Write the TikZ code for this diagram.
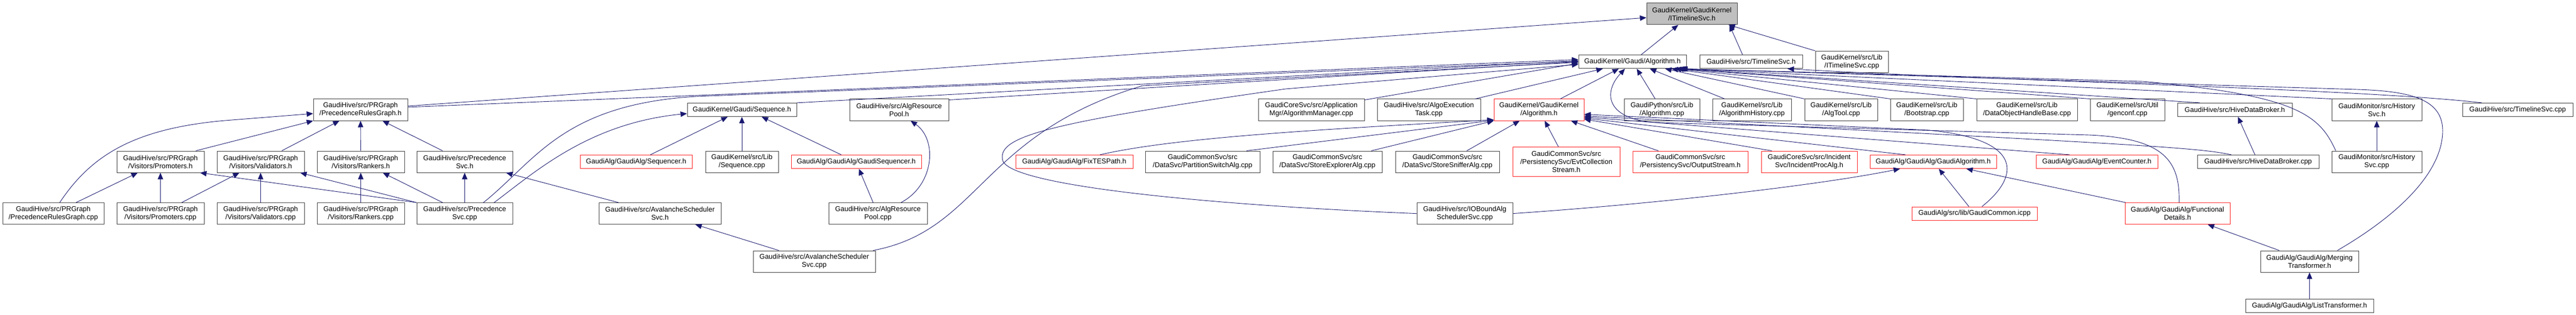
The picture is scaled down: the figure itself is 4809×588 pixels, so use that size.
\documentclass[tikz,border=0pt]{standalone}
\usepackage{fontspec}
\setmainfont{Liberation Sans}
\usetikzlibrary{arrows.meta}
\definecolor{edgeblue}{HTML}{191970}
\definecolor{rootgray}{HTML}{BFBFBF}
\definecolor{boxgray}{HTML}{404040}
\definecolor{boxred}{HTML}{FF2020}
\tikzset{
  box/.style={draw=boxgray, fill=white, line width=1pt, inner sep=0pt, align=center,
    font=\fontsize{13}{15}\selectfont, text=black},
  redbox/.style={box, draw=boxred},
  rootbox/.style={box, fill=rootgray},
  one/.style={minimum height=25.2pt},
  two/.style={minimum height=40pt},
  three/.style={minimum height=55pt},
  e/.style={draw=edgeblue, line width=0.9pt, -{Triangle[length=12pt,width=10pt]}},
}
\begin{document}
\begin{tikzpicture}[x=1pt,y=1pt]
\fill[white] (0,0) rectangle (4809,-588);
\useasboundingbox (0,0) rectangle (4809,-588);
% row 1
\node[rootbox,two,minimum width=169pt] (root) at (3158.5,-26) {GaudiKernel/GaudiKernel\\/ITimelineSvc.h};
% row 2
\node[box,one,minimum width=201pt] (A) at (3047.5,-115.2) {GaudiKernel/Gaudi/Algorithm.h};
\node[box,one,minimum width=192pt] (TSh) at (3269,-115.2) {GaudiHive/src/TimelineSvc.h};
\node[box,two,minimum width=136pt] (ITcpp) at (3457,-115.2) {GaudiKernel/src/Lib\\/ITimelineSvc.cpp};
% row 3
\node[box,two,minimum width=176pt] (PRGh) at (673,-205) {GaudiHive/src/PRGraph\\/PrecedenceRulesGraph.h};
\node[box,one,minimum width=204pt] (Seqh) at (1385,-205) {GaudiKernel/Gaudi/Sequence.h};
\node[box,two,minimum width=185pt] (ARPh) at (1678.5,-205) {GaudiHive/src/AlgResource\\Pool.h};
\node[box,two,minimum width=198pt] (AMcpp) at (2448,-205) {GaudiCoreSvc/src/Application\\Mgr/AlgorithmManager.cpp};
\node[box,two,minimum width=193pt] (AETcpp) at (2667.5,-205) {GaudiHive/src/AlgoExecution\\Task.cpp};
\node[redbox,two,minimum width=168pt] (GKAh) at (2873,-205) {GaudiKernel/GaudiKernel\\/Algorithm.h};
\node[box,two,minimum width=141pt] (GPAcpp) at (3102.5,-205) {GaudiPython/src/Lib\\/Algorithm.cpp};
\node[box,two,minimum width=147pt] (AHcpp) at (3270.5,-205) {GaudiKernel/src/Lib\\/AlgorithmHistory.cpp};
\node[box,two,minimum width=136pt] (ATcpp) at (3437,-205) {GaudiKernel/src/Lib\\/AlgTool.cpp};
\node[box,two,minimum width=136pt] (BScpp) at (3597,-205) {GaudiKernel/src/Lib\\/Bootstrap.cpp};
\node[box,two,minimum width=188pt] (DOHcpp) at (3784,-205) {GaudiKernel/src/Lib\\/DataObjectHandleBase.cpp};
\node[box,two,minimum width=139pt] (GCcpp) at (3971.5,-205) {GaudiKernel/src/Util\\/genconf.cpp};
\node[box,one,minimum width=214pt] (HDBh) at (4172,-205) {GaudiHive/src/HiveDataBroker.h};
\node[box,two,minimum width=168pt] (HSh) at (4437,-205) {GaudiMonitor/src/History\\Svc.h};
\node[box,one,minimum width=206pt] (TScpp) at (4700,-205) {GaudiHive/src/TimelineSvc.cpp};
% row 4
\node[box,two,minimum width=163pt] (Proh) at (299.5,-302) {GaudiHive/src/PRGraph\\/Visitors/Promoters.h};
\node[box,two,minimum width=163pt] (Valh) at (486.5,-302) {GaudiHive/src/PRGraph\\/Visitors/Validators.h};
\node[box,two,minimum width=163pt] (Rankh) at (673.5,-302) {GaudiHive/src/PRGraph\\/Visitors/Rankers.h};
\node[box,two,minimum width=179pt] (PSh) at (867.5,-302) {GaudiHive/src/Precedence\\Svc.h};
\node[redbox,one,minimum width=209pt] (Seqrh) at (1187.5,-302) {GaudiAlg/GaudiAlg/Sequencer.h};
\node[box,two,minimum width=136pt] (Seqcpp) at (1385,-302) {GaudiKernel/src/Lib\\/Sequence.cpp};
\node[redbox,one,minimum width=243pt] (GSeqh) at (1598.5,-302) {GaudiAlg/GaudiAlg/GaudiSequencer.h};
\node[redbox,one,minimum width=219pt] (FTPh) at (2005.5,-302) {GaudiAlg/GaudiAlg/FixTESPath.h};
\node[box,two,minimum width=214pt] (PSAcpp) at (2245,-302) {GaudiCommonSvc/src\\/DataSvc/PartitionSwitchAlg.cpp};
\node[box,two,minimum width=204pt] (SEAcpp) at (2478,-302) {GaudiCommonSvc/src\\/DataSvc/StoreExplorerAlg.cpp};
\node[box,two,minimum width=194pt] (SSAcpp) at (2702,-302) {GaudiCommonSvc/src\\/DataSvc/StoreSnifferAlg.cpp};
\node[redbox,three,minimum width=200pt] (ECSh) at (2924,-302) {GaudiCommonSvc/src\\/PersistencySvc/EvtCollection\\Stream.h};
\node[redbox,two,minimum width=215pt] (OSh) at (3155.5,-302) {GaudiCommonSvc/src\\/PersistencySvc/OutputStream.h};
\node[redbox,two,minimum width=179pt] (IPAh) at (3377.5,-302) {GaudiCoreSvc/src/Incident\\Svc/IncidentProcAlg.h};
\node[redbox,one,minimum width=236pt] (GAlgh) at (3609,-302) {GaudiAlg/GaudiAlg/GaudiAlgorithm.h};
\node[redbox,one,minimum width=227pt] (ECh) at (3914.5,-302) {GaudiAlg/GaudiAlg/EventCounter.h};
\node[box,one,minimum width=227pt] (HDBcpp) at (4215.5,-302) {GaudiHive/src/HiveDataBroker.cpp};
\node[box,two,minimum width=168pt] (HScpp) at (4437,-302) {GaudiMonitor/src/History\\Svc.cpp};
% row 5
\node[box,two,minimum width=189pt] (PRGcpp) at (99.5,-398.6) {GaudiHive/src/PRGraph\\/PrecedenceRulesGraph.cpp};
\node[box,two,minimum width=163pt] (Procpp) at (299.5,-398.6) {GaudiHive/src/PRGraph\\/Visitors/Promoters.cpp};
\node[box,two,minimum width=163pt] (Valcpp) at (486.5,-398.6) {GaudiHive/src/PRGraph\\/Visitors/Validators.cpp};
\node[box,two,minimum width=163pt] (Rankcpp) at (673.5,-398.6) {GaudiHive/src/PRGraph\\/Visitors/Rankers.cpp};
\node[box,two,minimum width=179pt] (PScpp) at (867.5,-398.6) {GaudiHive/src/Precedence\\Svc.cpp};
\node[box,two,minimum width=228pt] (ASh) at (1232,-398.6) {GaudiHive/src/AvalancheScheduler\\Svc.h};
\node[box,two,minimum width=184pt] (ARPcpp) at (1639,-398.6) {GaudiHive/src/AlgResource\\Pool.cpp};
\node[box,two,minimum width=179pt] (IOBcpp) at (2734.5,-398.6) {GaudiHive/src/IOBoundAlg\\SchedulerSvc.cpp};
\node[redbox,one,minimum width=234pt] (GCicpp) at (3686,-398.6) {GaudiAlg/src/lib/GaudiCommon.icpp};
\node[redbox,two,minimum width=196pt] (FDh) at (4065,-398.6) {GaudiAlg/GaudiAlg/Functional\\Details.h};
% row 6
\node[box,two,minimum width=228pt] (AScpp) at (1520,-488) {GaudiHive/src/AvalancheScheduler\\Svc.cpp};
\node[box,two,minimum width=183pt] (MTh) at (4311.5,-488) {GaudiAlg/GaudiAlg/Merging\\Transformer.h};
% row 7
\node[box,one,minimum width=239pt] (LTh) at (4311.5,-571) {GaudiAlg/GaudiAlg/ListTransformer.h};

% edges to root
\draw[e] (A) -- (root);
\draw[e] ([xshift=-16pt]TSh.north) -- ([xshift=70pt]root.south);
\draw[e] (ITcpp) -- (root);
\draw[e] ([yshift=7pt]PRGh.east) -- ([yshift=-7pt]root.west);
% edges to Gaudi/Algorithm.h
\draw[e] ([yshift=5pt]PRGh.east) -- ([yshift=4pt]A.west);
\draw[e] (Seqh.north east) -- ([yshift=2pt]A.west);
\draw[e] ([yshift=-2pt]ARPh.north east) -- (A.west);
\draw[e] ([yshift=-2pt]AMcpp.north east) -- ([yshift=-3pt]A.west);
\draw[e] (AETcpp) -- (A);
\draw[e] (GKAh) -- (A);
\draw[e] (GPAcpp) -- (A);
\draw[e] (AHcpp) -- (A);
\draw[e] (ATcpp.north west) -- ([xshift=-40pt]A.south east);
\draw[e] (BScpp.north west) -- ([xshift=-28pt]A.south east);
\draw[e] (DOHcpp.north west) -- ([xshift=-22pt]A.south east);
\draw[e] (GCcpp.north west) -- ([xshift=-18pt]A.south east);
\draw[e] ([xshift=42pt]HDBh.north west) -- ([xshift=-16pt]A.south east);
\draw[e] (HSh.north west) -- ([xshift=-14pt]A.south east);
\draw[e] ([xshift=8pt]HScpp.north west) .. controls (4330,-215) and (4290,-178) .. (4000,-152) -- ([xshift=-12pt]A.south east);
\draw[e] ([xshift=52pt]MTh.north) .. controls (4480,-400) and (4560,-320) .. (4560,-244) .. controls (4560,-185) and (4500,-170) .. (4400,-167) -- ([xshift=-10pt]A.south east);
\draw[e] ([xshift=3pt]FDh.north) .. controls (4070,-300) and (4040,-258) .. (3900,-252) -- (3100,-229) .. controls (3000,-226) and (2990,-175) .. ([xshift=-14pt]A.south);
\draw[e] ([xshift=35pt]PScpp.north) .. controls (1000,-300) and (1050,-195) .. (1300,-180) -- ([yshift=1pt]A.west);
\draw[e] ([xshift=110pt]AScpp.north) .. controls (1830,-430) and (1830,-250) .. (2133,-160) -- ([yshift=-1pt]A.west);
\draw[e] (IOBcpp.west) .. controls (2300,-385) and (1890,-350) .. (1872,-300) .. controls (1860,-255) and (1950,-230) .. (2400,-166) -- ([yshift=-5pt]A.west);
% TimelineSvc
\draw[e] ([xshift=-67pt]TScpp.north) .. controls (4400,-165) and (3700,-150) .. ([xshift=68pt]TSh.south);
% PRGraph cluster
\draw[e] ([xshift=66pt]Proh.north) -- (PRGh.south west);
\draw[e] (Valh) -- (PRGh);
\draw[e] (Rankh) -- (PRGh);
\draw[e] (PSh) -- (PRGh);
\draw[e] ([xshift=12pt]PRGcpp.north) .. controls (170,-290) and (250,-240) .. (420,-225) -- ([yshift=-7pt]PRGh.west);
\draw[e] (PRGcpp) -- (Proh);
\draw[e] (Procpp) -- (Proh);
\draw[e] (Procpp) -- (Valh);
\draw[e] (Valcpp) -- (Valh);
\draw[e] (Rankcpp) -- (Rankh);
\draw[e] (PScpp.north west) -- ([xshift=-8pt]Proh.south east);
\draw[e] (PScpp.north west) -- ([xshift=-8pt]Valh.south east);
\draw[e] (PScpp) -- (Rankh);
\draw[e] (PScpp) -- (PSh);
\draw[e] ([xshift=55pt]PScpp.north) .. controls (1000,-320) and (1100,-230) .. ([yshift=-7pt]Seqh.west);
\draw[e] (ASh) -- (PSh);
\draw[e] (AScpp) -- (ASh);
% Sequence
\draw[e] (Seqrh) -- (Seqh);
\draw[e] (Seqcpp) -- (Seqh);
\draw[e] ([xshift=-28pt]GSeqh.north) -- ([xshift=37pt]Seqh.south);
\draw[e] ([xshift=43pt]ARPcpp.north) .. controls (1745,-345) and (1750,-260) .. ([xshift=21.5pt]ARPh.south);
\draw[e] ([xshift=-9pt]ARPcpp.north) -- ([xshift=5pt]GSeqh.south);
% GaudiKernel/Algorithm.h
\draw[e] ([xshift=48pt]FTPh.north) .. controls (2200,-255) and (2500,-240) .. ([yshift=2pt]GKAh.south west);
\draw[e] ([xshift=82pt]PSAcpp.north) -- ([yshift=1pt]GKAh.south west);
\draw[e] ([xshift=82pt]SEAcpp.north) -- (GKAh.south west);
\draw[e] (SSAcpp) -- (GKAh);
\draw[e] (ECSh) -- (GKAh);
\draw[e] (OSh) -- (GKAh);
\draw[e] ([xshift=-70pt]IPAh.north) -- ([yshift=3pt]GKAh.south east);
\draw[e] ([xshift=-52pt]GAlgh.north) -- ([yshift=5pt]GKAh.south east);
\draw[e] ([xshift=-51pt]ECh.north) -- ([yshift=7pt]GKAh.south east);
\draw[e] ([xshift=-50pt]HDBcpp.north) .. controls (4100,-275) and (4000,-270) .. ([yshift=9pt]GKAh.south east);
\draw[e] ([xshift=14pt]GCicpp.north) .. controls (3770,-330) and (3780,-260) .. (3600,-243) -- ([yshift=12pt]GKAh.south east);
\draw[e] (GCicpp) -- (GAlgh);
\draw[e] (FDh) -- (GAlgh);
\draw[e] (IOBcpp.east) .. controls (3100,-380) and (3400,-345) .. ([xshift=-62pt]GAlgh.south);
% right part
\draw[e] (HDBcpp) -- (HDBh);
\draw[e] (HScpp) -- (HSh);
\draw[e] (MTh) -- (FDh);
\draw[e] (LTh) -- (MTh);
\end{tikzpicture}
\end{document}
